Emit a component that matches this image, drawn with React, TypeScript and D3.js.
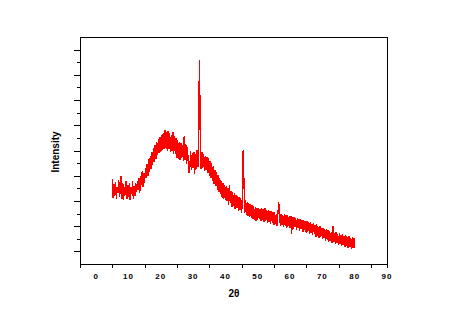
import React from "react";
import * as d3 from "d3";

// 2θ grid: first angle and step (degrees)
const twoThetaStart = 5;
const twoThetaStep = 0.25;

// Intensity (arbitrary units), one value per step from 5° to 80°
const intensity: number[] = [
  // 5.00 – 9.75
  335, 262, 318, 270, 326, 258, 305, 280, 331, 265, 300, 350, 259, 320, 252, 306, 272, 328, 256, 314,
  // 10.00 – 14.75
  266, 322, 254, 304, 278, 328, 258, 310, 270, 322, 284, 330, 292, 340, 282, 348, 312, 368, 306, 362,
  // 15.00 – 19.75
  322, 382, 340, 398, 350, 416, 366, 428, 378, 444, 392, 458, 406, 472, 418, 484, 432, 496, 440, 504,
  // 20.00 – 24.75
  444, 510, 452, 518, 458, 532, 462, 522, 450, 526, 458, 518, 444, 512, 450, 524, 436, 508, 438, 500,
  // 25.00 – 29.75
  422, 490, 418, 482, 412, 478, 420, 470, 408, 508, 414, 474, 398, 462, 404, 362, 386, 448, 374, 440,
  // 30.00 – 34.75
  382, 442, 356, 436, 378, 450, 386, 647, 809, 432, 376, 444, 380, 436, 368, 430, 372, 426, 360, 420,
  // 35.00 – 39.75
  350, 410, 340, 400, 328, 388, 318, 374, 308, 364, 294, 352, 284, 342, 278, 330, 262, 322, 258, 312,
  // 40.00 – 44.75
  254, 310, 250, 302, 236, 312, 240, 288, 228, 284, 232, 280, 218, 274, 224, 270, 210, 266, 214, 262,
  // 45.00 – 49.75
  202, 250, 452, 321, 202, 252, 194, 244, 190, 240, 186, 238, 182, 234, 178, 230, 174, 226, 170, 222,
  // 50.00 – 54.75
  174, 222, 180, 218, 170, 222, 176, 216, 166, 220, 172, 212, 162, 214, 168, 208, 158, 210, 164, 206,
  // 55.00 – 59.75
  156, 204, 160, 200, 152, 202, 246, 196, 150, 200, 156, 196, 148, 198, 152, 194, 144, 194, 150, 192,
  // 60.00 – 64.75
  142, 190, 119, 188, 140, 186, 146, 184, 136, 182, 142, 180, 132, 178, 138, 176, 128, 174, 134, 170,
  // 65.00 – 69.75
  124, 172, 128, 168, 120, 166, 122, 160, 114, 162, 118, 156, 108, 158, 112, 148, 102, 150, 106, 144,
  // 70.00 – 74.75
  98, 144, 102, 140, 92, 138, 96, 134, 88, 132, 90, 128, 84, 150, 86, 124, 78, 126, 82, 120,
  // 75.00 – 80.00
  76, 122, 78, 116, 70, 118, 74, 112, 66, 114, 70, 108, 62, 110, 66, 104, 60, 106, 64, 102, 62,
];

const xTickPositions = [-5, 5, 15, 25, 35, 45, 55, 65, 75, 85, 90];
const xTickLabels = [0, 10, 20, 30, 40, 50, 60, 70, 80, 90];
const yMajorTicks = [50, 150, 250, 350, 450, 550, 650, 750, 850];
const yMinorTicks = [100, 200, 300, 400, 500, 600, 700, 800];

const W = 449;
const H = 317;
const left = 80;
const right = 387;
const top = 37;
const bottom = 264;

export default function App() {
  const x = d3.scaleLinear().domain([-5, 90]).range([left, right]);
  const y = d3.scaleLinear().domain([0, 900]).range([bottom, top]);

  const pts: [number, number][] = intensity.map((v, i) => [twoThetaStart + i * twoThetaStep, v]);
  const line = d3
    .line<[number, number]>()
    .x((d) => x(d[0]))
    .y((d) => y(d[1]));

  const fontFamily = "'Liberation Sans', Arial, sans-serif";

  return (
    <svg
      width={W}
      height={H}
      style={{ position: "absolute", left: 0, top: 0, background: "#fff" }}
    >
      <rect x={0} y={0} width={W} height={H} fill="#fff" />
      <path
        d={line(pts) || ""}
        fill="none"
        stroke="#ff0000"
        strokeWidth={1.3}
        shapeRendering="crispEdges"
      />
      <rect
        x={left + 0.5}
        y={top + 0.5}
        width={right - left}
        height={bottom - top}
        fill="none"
        stroke="#000"
        strokeWidth={1}
      />
      {xTickPositions.map((t) => (
        <line
          key={"xt" + t}
          x1={Math.round(x(t)) + 0.5}
          x2={Math.round(x(t)) + 0.5}
          y1={bottom}
          y2={bottom + 4}
          stroke="#000"
        />
      ))}
      {xTickLabels.map((t) => (
        <text
          key={"xl" + t}
          x={x(t)}
          y={279}
          textAnchor="middle"
          fontFamily={fontFamily}
          fontWeight="bold"
          fontSize={8}
          letterSpacing={1}
        >
          {t}
        </text>
      ))}
      {yMajorTicks.map((t) => (
        <line
          key={"ym" + t}
          x1={left - 6}
          x2={left}
          y1={Math.round(y(t)) + 0.5}
          y2={Math.round(y(t)) + 0.5}
          stroke="#000"
        />
      ))}
      {yMinorTicks.map((t) => (
        <line
          key={"yn" + t}
          x1={left - 3}
          x2={left}
          y1={Math.round(y(t)) + 0.5}
          y2={Math.round(y(t)) + 0.5}
          stroke="#000"
        />
      ))}
      <text
        x={234}
        y={297}
        textAnchor="middle"
        fontFamily={fontFamily}
        fontWeight="bold"
        fontSize={10}
      >
        2θ
      </text>
      <text
        transform={`translate(59,152) rotate(-90)`}
        textAnchor="middle"
        fontFamily={fontFamily}
        fontWeight="bold"
        fontSize={10}
      >
        Intensity
      </text>
    </svg>
  );
}
